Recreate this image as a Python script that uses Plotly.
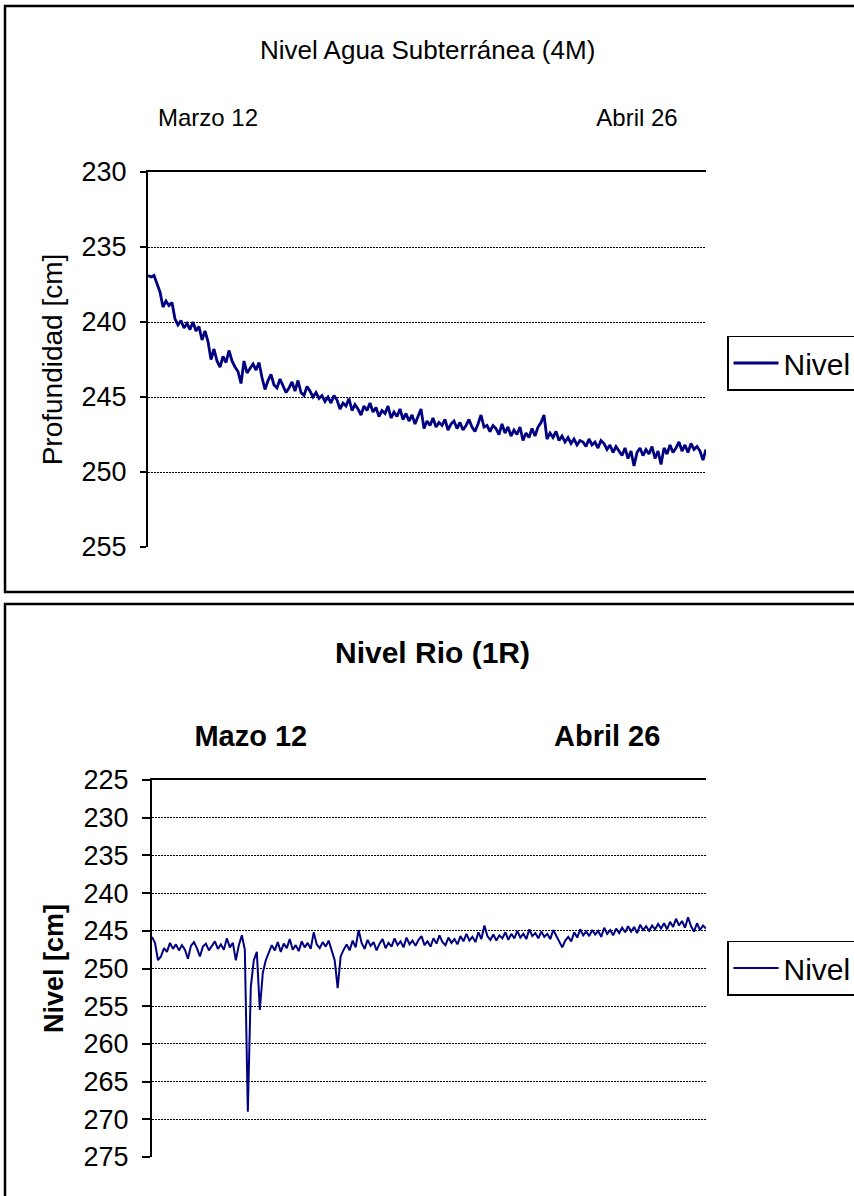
import plotly.graph_objects as go

# ---------------- data ----------------
top_title = "Nivel Agua Subterránea (4M)"
bottom_title = "Nivel Rio (1R)"
series_name = "Nivel"

top_tick_labels = ["Marzo 12", "Abril 26"]
top_tick_pos = [20, 163]
bottom_tick_labels = ["Mazo 12", "Abril 26"]
bottom_tick_pos = [33, 152]

top_values = [
    236.9, 237.0, 236.9, 237.4, 238.0, 239.0, 238.6, 238.9, 238.7, 239.8,
    240.2, 239.9, 240.4, 240.1, 240.5, 240.0, 240.6, 240.3, 241.2, 240.6,
    241.3, 242.5, 241.8, 242.6, 243.0, 242.3, 242.7, 241.9, 242.6, 243.0,
    243.3, 244.1, 242.6, 243.4, 243.1, 242.8, 243.2, 242.7, 243.7, 244.5,
    243.9, 243.5, 244.2, 244.4, 243.8, 244.2, 244.7, 244.4, 244.0, 244.6,
    243.9, 244.7, 244.9, 244.3, 244.6, 245.0, 244.7, 245.1, 244.9, 245.3,
    245.0, 245.4, 244.9, 245.2, 245.8, 245.4, 245.6, 245.1, 245.9, 245.5,
    245.8, 246.2, 245.6, 245.9, 245.4, 246.0, 245.7, 246.3, 245.9, 246.1,
    245.6, 246.4, 246.0, 246.3, 245.8, 246.5, 246.1, 246.6, 246.2, 246.8,
    246.3, 245.8, 247.1, 246.6, 246.9, 246.4, 247.0, 246.7, 246.9, 246.5,
    247.2, 246.8, 246.6, 247.1, 246.7, 247.2, 246.9, 246.5, 247.0, 247.3,
    246.8, 246.2, 247.0, 246.9, 247.3, 246.9, 247.1, 247.5, 246.8, 247.4,
    247.0, 247.6, 247.2, 247.5, 247.0, 247.9, 247.4, 247.7, 247.1, 247.6,
    247.0, 246.7, 246.2, 247.8, 247.4, 247.7, 247.3, 247.9, 247.6, 248.0,
    247.7, 248.1, 247.8, 248.2, 247.9, 248.0, 248.3, 247.8, 248.2, 248.0,
    248.4, 247.9, 248.1, 248.5, 248.2, 248.7, 248.3, 248.6, 248.9, 248.4,
    249.1, 248.6, 249.6, 248.7, 248.4, 248.9, 248.5, 248.8, 248.3, 249.1,
    248.6, 249.5, 248.4, 248.8, 248.2, 248.7, 248.4, 248.0, 248.6, 248.2,
    248.7, 248.1, 248.5, 248.3, 248.6, 249.2, 248.5,
]

bottom_values = [
    245.8, 246.6, 248.9, 248.4, 247.3, 247.8, 246.6, 247.4, 246.8, 247.6,
    246.9, 247.5, 248.7, 247.0, 246.5, 247.3, 248.4, 247.1, 246.7, 247.6,
    247.0, 246.4, 247.4, 246.8, 247.5, 246.0, 247.2, 246.6, 248.9, 246.9,
    245.6, 247.5, 269.0, 252.4, 248.9, 247.8, 255.5, 250.6, 248.9, 247.8,
    246.9, 247.6, 246.5, 247.8, 246.7, 247.3, 246.1, 247.5, 246.9, 247.7,
    246.4, 247.2, 246.6, 247.4, 245.2, 246.8, 247.3, 246.5, 247.1, 246.3,
    247.6, 248.9, 252.6, 248.4, 247.5, 246.8, 247.6, 246.3, 247.2, 244.9,
    246.6, 247.4, 246.2, 247.0, 246.5, 247.6, 246.7, 246.1, 247.3, 246.6,
    247.1, 246.0, 246.9, 246.4, 247.2, 245.9, 246.8, 246.3, 247.0, 246.2,
    245.7, 246.9, 246.4, 247.1, 246.0, 246.7, 245.6, 246.5, 246.9, 245.9,
    246.6, 246.1, 246.8, 245.7, 246.4, 245.4, 246.3, 245.8, 246.5, 245.2,
    246.1, 244.3, 245.7, 246.2, 245.5, 246.3, 245.6, 246.0, 245.2, 246.2,
    245.4, 246.0, 245.0, 245.9, 245.4, 246.1, 244.8, 245.7, 245.3, 246.0,
    245.1, 245.8, 245.4, 246.1, 244.9, 245.7, 246.4, 247.2, 246.3, 245.8,
    246.4, 245.2, 245.9, 244.8, 245.6, 245.1, 245.7, 244.9, 245.5, 245.0,
    245.8, 244.6, 245.4, 244.9, 245.6, 244.7, 245.3, 244.6, 245.2, 244.4,
    245.1, 244.5, 245.3, 244.2, 244.9, 244.4, 245.0, 244.3, 244.8, 244.1,
    244.7, 244.0, 244.8, 243.8, 244.5, 243.4, 244.3, 243.7, 244.6, 243.2,
    244.4, 245.1, 244.0, 244.9, 244.3, 244.7,
]

top_y_ticks = [230, 235, 240, 245, 250, 255]
bottom_y_ticks = [225, 230, 235, 240, 245, 250, 255, 260, 265, 270, 275]

W, H = 854, 1196
FONT = "Liberation Sans"
LINE_COLOR = "#000080"
GRID_DASH = "2px,1px"


def px_x(p):
    return p / W


def px_y(p):
    return 1 - p / H


fig = go.Figure()

fig.add_trace(go.Scatter(
    x=list(range(len(top_values))), y=top_values, mode="lines",
    name=series_name, line=dict(color=LINE_COLOR, width=2.8),
    xaxis="x", yaxis="y", legend="legend",
))
fig.add_trace(go.Scatter(
    x=list(range(len(bottom_values))), y=bottom_values, mode="lines",
    name=series_name, line=dict(color=LINE_COLOR, width=2),
    xaxis="x2", yaxis="y2", legend="legend2",
))


def yaxis_common(ticklen):
    return dict(
        showline=True, linecolor="black", linewidth=2,
        ticks="outside", ticklen=ticklen, tickcolor="black", tickwidth=1.5,
        showgrid=True, gridcolor="black", gridwidth=1, griddash=GRID_DASH,
        zeroline=False, automargin="left+right", ticklabelstandoff=8,
        tickfont=dict(family=FONT, size=27, color="black"),
    )


def xaxis_common():
    return dict(
        side="top", showline=True, linecolor="black", linewidth=2,
        showgrid=False, zeroline=False, ticks="", automargin=False,
        tickmode="array",
    )


def legend_box(center_px):
    return dict(
        x=px_x(727), y=px_y(center_px), xanchor="left", yanchor="middle",
        bordercolor="black", borderwidth=1.5, bgcolor="white",
        itemwidth=45,
        font=dict(family=FONT, size=30, color="black"),
    )


fig.update_layout(
    width=W, height=H,
    margin=dict(l=0, r=0, t=0, b=0, autoexpand=False),
    paper_bgcolor="white", plot_bgcolor="white",
    font=dict(family=FONT, color="black"),
    xaxis=dict(
        xaxis_common(),
        domain=[px_x(148), px_x(706)], anchor="y",
        range=[0, len(top_values) - 1],
        tickvals=top_tick_pos, ticktext=top_tick_labels,
        tickfont=dict(family=FONT, size=24, color="black"),
        ticklabelstandoff=34,
    ),
    yaxis=dict(
        yaxis_common(6),
        domain=[px_y(547), px_y(172)], anchor="x",
        range=[255, 230], tickmode="array", tickvals=top_y_ticks,
        title=dict(text="Profundidad [cm]",
                   font=dict(family=FONT, size=28, color="black"), standoff=11),
    ),
    xaxis2=dict(
        xaxis_common(),
        domain=[px_x(152), px_x(706)], anchor="y2",
        range=[0, len(bottom_values) - 1],
        tickvals=bottom_tick_pos, ticktext=bottom_tick_labels,
        tickfont=dict(family=FONT, size=29, color="black", weight="bold"),
        ticklabelstandoff=20,
    ),
    yaxis2=dict(
        yaxis_common(8),
        domain=[px_y(1157), px_y(780)], anchor="x2",
        range=[275, 225], tickmode="array", tickvals=bottom_y_ticks,
        title=dict(text="Nivel [cm]",
                   font=dict(family=FONT, size=27, color="black", weight="bold"), standoff=12),
    ),
    legend=legend_box(363),
    legend2=legend_box(968),
    showlegend=True,
)

fig.add_annotation(
    text=top_title, xref="paper", yref="paper",
    x=px_x(427), y=px_y(50), xanchor="center", yanchor="middle", showarrow=False,
    font=dict(family=FONT, size=26, color="black"),
)
fig.add_annotation(
    text=bottom_title, xref="paper", yref="paper",
    x=px_x(432), y=px_y(652), xanchor="center", yanchor="middle", showarrow=False,
    font=dict(family=FONT, size=30, color="black", weight="bold"),
)

fig.add_shape(type="rect", xref="paper", yref="paper",
              x0=px_x(5), x1=1.05, y0=px_y(592), y1=px_y(6),
              line=dict(color="black", width=2.5), layer="below")
fig.add_shape(type="rect", xref="paper", yref="paper",
              x0=px_x(5), x1=1.05, y0=-0.05, y1=px_y(604),
              line=dict(color="black", width=2.5), layer="below")

fig.write_html("out.html")
